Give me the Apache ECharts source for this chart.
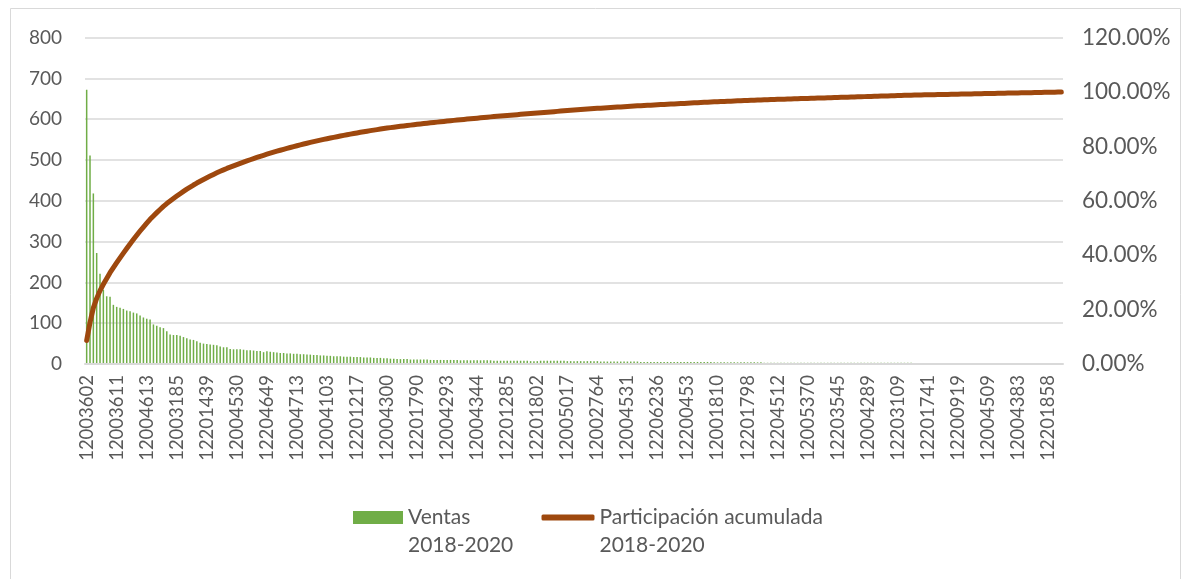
<!DOCTYPE html>
<html>
<head>
<meta charset="utf-8">
<script src="https://cdn.jsdelivr.net/npm/echarts@6/dist/echarts.min.js"></script>
<style>
html,body{margin:0;padding:0;background:#fff;}
#c{width:1184px;height:579px;}
</style>
</head>
<body>
<div id="c"></div>
<script>
// Tick labels shown on the category axis (every 9th product code)
const shownLabels = ['12003602','12003611','12004613','12003185','12201439','12004530','12204649','12004713','12004103','12201217','12004300','12201790','12004293','12004344','12201285','12201802','12005017','12002764','12004531','12206236','12200453','12001810','12201798','12204512','12005370','12203545','12004289','12203109','12201741','12200919','12004509','12004383','12201858'];
const labelStep = 9;

// Ventas 2018-2020 per product (sorted descending)
const ventasHead = [672,511,418,272,221,182,166,165,145,140,138,135,131,129,126,124,119,114,111,109,97,94,90,88,80,72,71,71,69,66,63,60,59,56,52,50,49,48,47,46,43,41,41,37,36,36,36,35,34,34,33,32,32,29];
const ventasMid = [31,30,29,28,27,27,26,26,25,25,24,24,23,23,22,22,21,21,20,20,19,19,19,18,18,18,17,17,17,16,16,16,15,15,15,14,14];
const ventasLow = [13,13,12,12,12,12,11,11,11,11,11,11,10,10,10,10,10,10,10,10,10,9,9,9,9,9,9,9,9,9,9,8,8,8,8,8,8,8,8,8,8,8,7,7,7];
const ventasTail1 = [8,8,8,8,8,8,8,8,7,7,7,7,7,7,7,7,7,7,6,6,6,6,6,6,6,6,6,6,6,6,5,5,5,5,5,5,5,5,5,5,5,5];
const ventasTail2 = [5,5,5,5,5,5,5,5,5,5,4,4,4,4,4,4,4,4,4,4,4,4,4,4,4,3,3,3,3,3,3,3,3,3,3,3,3,3,3,3,3,3,3,3,3,3,3,3,3,3,3,3,3,3,3,3,3,3,3];
const ventasTail3 = [3,3,3,3,3,3,3,3,3,3,3,2,2,2,2,2,2,2,2,2,2,2,2,2,2,2,2,2,2,2,2,2,2,2,2,2,2,2,2,2,2,2,2,2,2,2,2,2,2,2,2,2,2,2,2,2];

const legendVentas = 'Ventas\n2018-2020';
const legendAcum = 'Participación acumulada\n2018-2020';

const ventas = [].concat(ventasHead, ventasMid, ventasLow, ventasTail1, ventasTail2, ventasTail3);
const categories = ventas.map((v, i) => (i % labelStep === 0 && shownLabels[i / labelStep]) ? shownLabels[i / labelStep] : '');
const total = ventas.reduce((a, b) => a + b, 0);
let run = 0;
const acumulada = ventas.map(v => { run += v; return run / total; });

const FONT = 'Lato';
const TXT = '#595959';
const legendText = {color: TXT, fontSize: 21, lineHeight: 28, fontFamily: FONT};
const chart = echarts.init(document.getElementById('c'), null, {renderer: 'canvas'});
chart.setOption({
  animation: false,
  backgroundColor: '#fff',
  textStyle: {fontFamily: FONT},
  graphic: [{type: 'rect', shape: {x: 10.5, y: 8.5, width: 1170, height: 580}, style: {fill: 'none', stroke: '#d9d9d9', lineWidth: 1}}],
  grid: {left: 85, right: 121, top: 37.6, bottom: 215, containLabel: false},
  xAxis: {
    type: 'category', data: categories, z: 3,
    axisLine: {lineStyle: {color: '#d9d9d9', width: 2}},
    axisTick: {show: false},
    axisLabel: {interval: labelStep - 1, rotate: 90, margin: 11, color: TXT, fontSize: 18.5, fontFamily: FONT}
  },
  yAxis: [
    {type: 'value', min: 0, max: 800, interval: 100,
     axisLine: {show: false}, axisTick: {show: false},
     splitLine: {lineStyle: {color: '#d9d9d9', width: 1.5}},
     axisLabel: {color: TXT, fontSize: 19, margin: 23, fontFamily: FONT}},
    {type: 'value', min: 0, max: 1.2, interval: 0.2,
     axisLine: {show: false}, axisTick: {show: false}, splitLine: {show: false},
     axisLabel: {color: TXT, fontSize: 22.5, margin: 19, fontFamily: FONT, formatter: v => (v * 100).toFixed(2) + '%'}}
  ],
  legend: [
    {data: [legendVentas], left: 348, top: 470.5, itemWidth: 50, itemHeight: 13, icon: 'rect',
     formatter: n => '\n' + n, textStyle: legendText},
    {data: [legendAcum], left: 536.5, top: 470.5, itemWidth: 53, itemHeight: 6, icon: 'roundRect',
     formatter: n => '\n' + n, textStyle: legendText}
  ],
  series: [
    {name: legendVentas, type: 'bar', data: ventas, yAxisIndex: 0,
     barCategoryGap: '55%', itemStyle: {color: '#70AD47'}},
    {name: legendAcum, type: 'line', data: acumulada, yAxisIndex: 1,
     showSymbol: false, symbol: 'none', smooth: false,
     lineStyle: {color: '#9E480E', width: 5, cap: 'round', join: 'round'}, itemStyle: {color: '#9E480E'}}
  ]
});
</script>
</body>
</html>
